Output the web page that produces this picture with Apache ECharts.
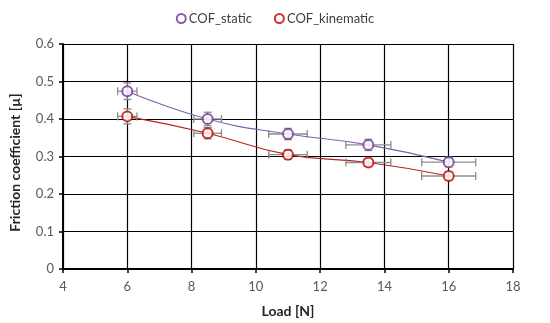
<!DOCTYPE html>
<html>
<head>
<meta charset="utf-8">
<script src="https://cdn.jsdelivr.net/npm/echarts@6/dist/echarts.min.js"></script>
<style>html,body{margin:0;padding:0;background:#fff}#c{width:550px;height:323px}</style>
</head>
<body>
<div id="c"></div>
<script>
var loads = [6, 8.5, 11, 13.5, 16];
var staticCof = [0.474, 0.400, 0.360, 0.331, 0.285];
var kinematicCof = [0.407, 0.362, 0.305, 0.284, 0.248];
var loadErr = [0.3, 0.43, 0.6, 0.7, 0.84];
var staticErr = [0.022, 0.018, 0.015, 0.015, 0.013];
var kinematicErr = [0.02, 0.015, 0.013, 0.01, 0.01];
var xTicks = [4, 6, 8, 10, 12, 14, 16, 18];
var yTicks = [0, 0.1, 0.2, 0.3, 0.4, 0.5, 0.6];

var FONT = 'Lato, "Open Sans", "Liberation Sans", sans-serif';
var purple = '#7030A0', red = '#C00000', errColor = '#8C8C8C';

function pairs(xs, ys) { return xs.map(function (x, i) { return [x, ys[i]]; }); }
function errData(ys, yerr) {
  return loads.map(function (x, i) { return [x, ys[i], loadErr[i], yerr[i]]; });
}
function errRender(params, api) {
  var x = api.value(0), y = api.value(1), ex = api.value(2), ey = api.value(3);
  var c = api.coord([x, y]);
  var l = api.coord([x - ex, y]), r = api.coord([x + ex, y]);
  var t = api.coord([x, y + ey]), b = api.coord([x, y - ey]);
  var cap = 4;
  var st = { stroke: errColor, lineWidth: 1.3 };
  var shapes = [
    [l[0], c[1], r[0], c[1]],
    [l[0], c[1] - cap, l[0], c[1] + cap],
    [r[0], c[1] - cap, r[0], c[1] + cap],
    [c[0], t[1], c[0], b[1]],
    [c[0] - cap, t[1], c[0] + cap, t[1]],
    [c[0] - cap, b[1], c[0] + cap, b[1]]
  ];
  return {
    type: 'group',
    children: shapes.map(function (s) {
      return { type: 'line', shape: { x1: s[0], y1: s[1], x2: s[2], y2: s[3] }, style: st };
    })
  };
}

var chart = echarts.init(document.getElementById('c'), null, { renderer: 'canvas' });
chart.setOption({
  animation: false,
  backgroundColor: '#fff',
  textStyle: { fontFamily: FONT },
  legend: {
    top: 7, left: 'center', itemGap: 22, itemWidth: 9, itemHeight: 9,
    textStyle: { fontFamily: FONT, fontSize: 13, color: '#404040', padding: [0, 0, 0, -2] },
    data: ['COF_static', 'COF_kinematic']
  },
  grid: { left: 60, right: 37, top: 44, bottom: 54 },
  xAxis: {
    type: 'value', min: xTicks[0], max: xTicks[xTicks.length - 1], interval: 2,
    name: 'Load [N]', nameLocation: 'middle', nameGap: 35,
    nameTextStyle: { fontFamily: FONT, fontSize: 14, fontWeight: 'bold', color: '#262626' },
    axisLine: { lineStyle: { color: '#000', width: 2 } },
    axisTick: { show: true, length: 4, lineStyle: { color: '#000', width: 1.5 } },
    axisLabel: { fontFamily: FONT, fontSize: 13, color: '#595959', margin: 11 },
    splitLine: { show: true, lineStyle: { color: '#000', width: 1.2 } }
  },
  yAxis: {
    type: 'value', min: yTicks[0], max: yTicks[yTicks.length - 1], interval: 0.1,
    name: 'Friction coefficient [µ]', nameLocation: 'middle', nameGap: 41,
    nameTextStyle: { fontFamily: FONT, fontSize: 14, fontWeight: 'bold', color: '#262626', padding: [0, 0, 0, -12] },
    axisLine: { show: true, lineStyle: { color: '#000', width: 2 } },
    axisTick: { show: true, length: 4, lineStyle: { color: '#000', width: 1.5 } },
    axisLabel: { fontFamily: FONT, fontSize: 13, color: '#595959', margin: 9 },
    splitLine: { show: true, lineStyle: { color: '#000', width: 1.2 } }
  },
  series: [
    {
      name: 'lineStatic', type: 'line', data: pairs(loads, staticCof), smooth: 0.5,
      symbol: 'none', lineStyle: { color: '#7F5FB0', width: 1.1 }, z: 3
    },
    {
      name: 'lineKinematic', type: 'line', data: pairs(loads, kinematicCof), smooth: 0.5,
      symbol: 'none', lineStyle: { color: '#B82020', width: 1.1 }, z: 3
    },
    { type: 'custom', name: 'errS', renderItem: errRender, data: errData(staticCof, staticErr), z: 4 },
    { type: 'custom', name: 'errK', renderItem: errRender, data: errData(kinematicCof, kinematicErr), z: 4 },
    {
      name: 'COF_static', type: 'scatter', data: pairs(loads, staticCof), symbol: 'emptyCircle', symbolSize: 10,
      itemStyle: { color: purple, borderColor: purple, borderWidth: 2.2 }, z: 5
    },
    {
      name: 'COF_kinematic', type: 'scatter', data: pairs(loads, kinematicCof), symbol: 'emptyCircle', symbolSize: 10,
      itemStyle: { color: red, borderColor: red, borderWidth: 2.2 }, z: 5
    }
  ]
});
</script>
</body>
</html>
